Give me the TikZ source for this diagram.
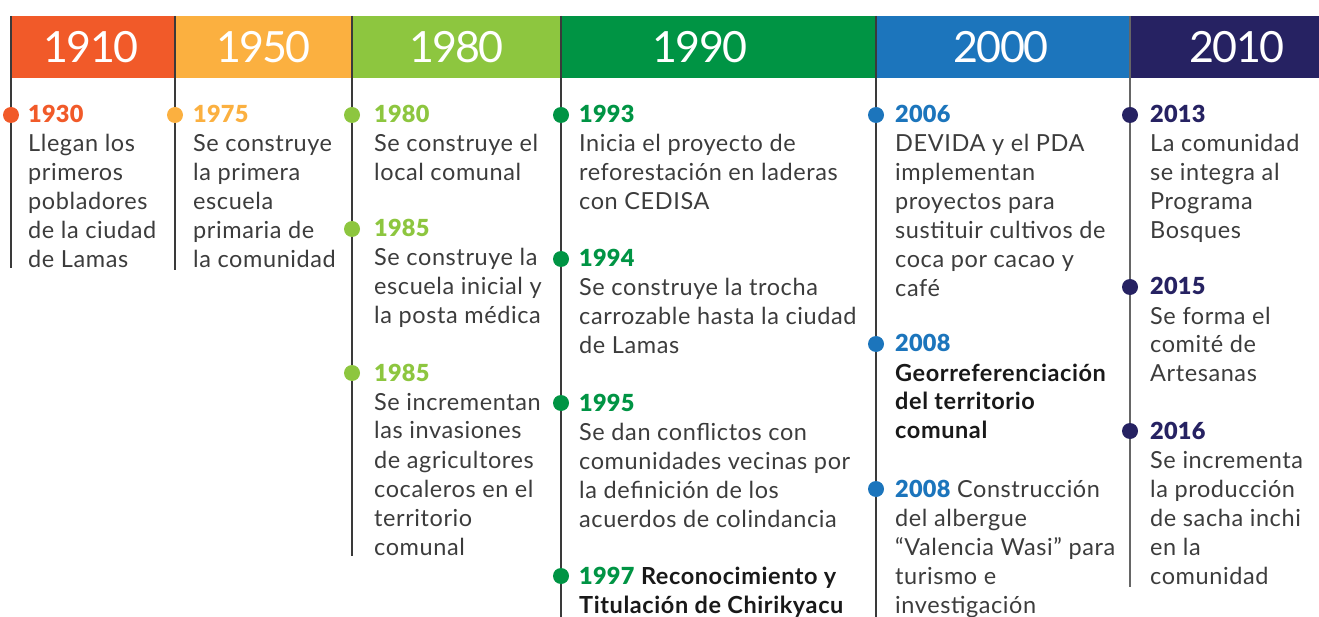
\documentclass[tikz,border=0pt]{standalone}
\usepackage{fontspec}
\setmainfont{Lato}[LetterSpace=2.5]
\newfontfamily\hdfont{Lato}[LetterSpace=-4]
\newfontfamily\yrfont{Lato Black}[LetterSpace=1]
\newfontfamily\semifont{Lato Bold}[LetterSpace=2.5]
\definecolor{c1910}{HTML}{F15A29}
\definecolor{c1950}{HTML}{FBB040}
\definecolor{c1980}{HTML}{8DC63F}
\definecolor{c1990}{HTML}{009444}
\definecolor{c2000}{HTML}{1C75BC}
\definecolor{c2010}{HTML}{262262}
\definecolor{bodytxt}{HTML}{3C3C3C}
\definecolor{linec}{HTML}{3A3A3A}
\newcommand{\yr}[2]{{\yrfont\color{#1}#2}}
\begin{document}
\begin{tikzpicture}[x=1pt,y=-1pt,
  band/.style={fill=#1,draw=none},
  header/.style={text=white,font=\hdfont\fontsize{43}{48}\selectfont,anchor=base,inner sep=0pt},
  tline/.style={draw=linec,line width=1.1pt},
  dot/.style={circle,fill=#1,draw=none,minimum size=16pt,inner sep=0pt},
  entry/.style={anchor=base west,inner sep=0pt,text=bodytxt,font=\fontsize{23.5}{29}\selectfont}]
\useasboundingbox (0,0) rectangle (1319,617);
% header bands
\fill[band=c1910] (11,16) rectangle (175,78);
\fill[band=c1950] (175,16) rectangle (352,78);
\fill[band=c1980] (352,16) rectangle (561,78);
\fill[band=c1990] (561,16) rectangle (876,78);
\fill[band=c2000] (876,16) rectangle (1130,78);
\fill[band=c2010] (1130,16) rectangle (1319,78);
\node[header] (h1910) at (91,63) {1910};
\node[header] (h1950) at (263.5,63) {1950};
\node[header] (h1980) at (456.5,63) {1980};
\node[header] (h1990) at (700,63) {1990};
\node[header] (h2000) at (1001,63) {2000};
\node[header] (h2010) at (1237,63) {2010};
% vertical lines
\coordinate (t1) at (11,16);   \coordinate (b1) at (11,268);
\coordinate (t2) at (175,16);  \coordinate (b2) at (175,270);
\coordinate (t3) at (352,16);  \coordinate (b3) at (352,556);
\coordinate (t4) at (561,16);  \coordinate (b4) at (561,617);
\coordinate (t5) at (876,16);  \coordinate (b5) at (876,617);
\coordinate (t6) at (1130,16); \coordinate (b6) at (1130,587);
\draw[tline] (t1) -- (b1);
\draw[tline] (t2) -- (b2);
\draw[tline] (t3) -- (b3);
\draw[tline] (t4) -- (b4);
\draw[tline] (t5) -- (b5);
\draw[tline,draw=gray!80!black] (t6) -- (b6);
% dots
\node[dot=c1910] (d1930) at (11,115) {};
\node[dot=c1950] (d1975) at (175,115) {};
\node[dot=c1980] (d1980) at (352,115) {};
\node[dot=c1980] (d1985a) at (352,229) {};
\node[dot=c1980] (d1985b) at (352,373) {};
\node[dot=c1990] (d1993) at (561,115) {};
\node[dot=c1990] (d1994) at (561,259) {};
\node[dot=c1990] (d1995) at (561,403) {};
\node[dot=c1990] (d1997) at (561,576) {};
\node[dot=c2000] (d2006) at (876,115) {};
\node[dot=c2000] (d2008a) at (876,344) {};
\node[dot=c2000] (d2008b) at (876,489) {};
\node[dot=c2010] (d2013) at (1130,115) {};
\node[dot=c2010] (d2015) at (1130,287) {};
\node[dot=c2010] (d2016) at (1130,431) {};
% entries
\node[entry] (e1930) at (28,123) {\begin{tabular}[t]{@{}l@{}}\yr{c1910}{1930}\\Llegan los\\primeros\\pobladores\\de la ciudad\\de Lamas\end{tabular}};
\node[entry] (e1975) at (193,123) {\begin{tabular}[t]{@{}l@{}}\yr{c1950}{1975}\\Se construye\\la primera\\escuela\\primaria de\\la comunidad\end{tabular}};
\node[entry] (e1980) at (374,123) {\begin{tabular}[t]{@{}l@{}}\yr{c1980}{1980}\\Se construye el\\local comunal\end{tabular}};
\node[entry] (e1985a) at (374,237) {\begin{tabular}[t]{@{}l@{}}\yr{c1980}{1985}\\Se construye la\\escuela inicial y\\la posta médica\end{tabular}};
\node[entry] (e1985b) at (374,381) {\begin{tabular}[t]{@{}l@{}}\yr{c1980}{1985}\\Se incrementan\\las invasiones\\de agricultores\\cocaleros en el\\territorio\\comunal\end{tabular}};
\node[entry] (e1993) at (579,123) {\begin{tabular}[t]{@{}l@{}}\yr{c1990}{1993}\\Inicia el proyecto de\\reforestación en laderas\\con CEDISA\end{tabular}};
\node[entry] (e1994) at (579,267) {\begin{tabular}[t]{@{}l@{}}\yr{c1990}{1994}\\Se construye la trocha\\carrozable hasta la ciudad\\de Lamas\end{tabular}};
\node[entry] (e1995) at (579,411) {\begin{tabular}[t]{@{}l@{}}\yr{c1990}{1995}\\Se dan conflictos con\\comunidades vecinas por\\la definición de los\\acuerdos de colindancia\end{tabular}};
\node[entry] (e1997) at (579,584) {\begin{tabular}[t]{@{}l@{}}\yr{c1990}{1997} {\semifont\color{black!90}Reconocimiento y}\\{\semifont\color{black!90}Titulación de Chirikyacu}\end{tabular}};
\node[entry] (e2006) at (895,123) {\begin{tabular}[t]{@{}l@{}}\yr{c2000}{2006}\\DEVIDA y el PDA\\implementan\\proyectos para\\sustituir cultivos de\\coca por cacao y\\café\end{tabular}};
\node[entry] (e2008a) at (895,352) {\begin{tabular}[t]{@{}l@{}}\yr{c2000}{2008}\\{\semifont\color{black!90}Georreferenciación}\\{\semifont\color{black!90}del territorio}\\{\semifont\color{black!90}comunal}\end{tabular}};
\node[entry] (e2008b) at (895,497) {\begin{tabular}[t]{@{}l@{}}\yr{c2000}{2008} Construcción\\del albergue\\“Valencia Wasi” para\\turismo e\\investigación\end{tabular}};
\node[entry] (e2013) at (1150,123) {\begin{tabular}[t]{@{}l@{}}\yr{c2010}{2013}\\La comunidad\\se integra al\\Programa\\Bosques\end{tabular}};
\node[entry] (e2015) at (1150,295) {\begin{tabular}[t]{@{}l@{}}\yr{c2010}{2015}\\Se forma el\\comité de\\Artesanas\end{tabular}};
\node[entry] (e2016) at (1150,439) {\begin{tabular}[t]{@{}l@{}}\yr{c2010}{2016}\\Se incrementa\\la producción\\de sacha inchi\\en la\\comunidad\end{tabular}};
\end{tikzpicture}
\end{document}
